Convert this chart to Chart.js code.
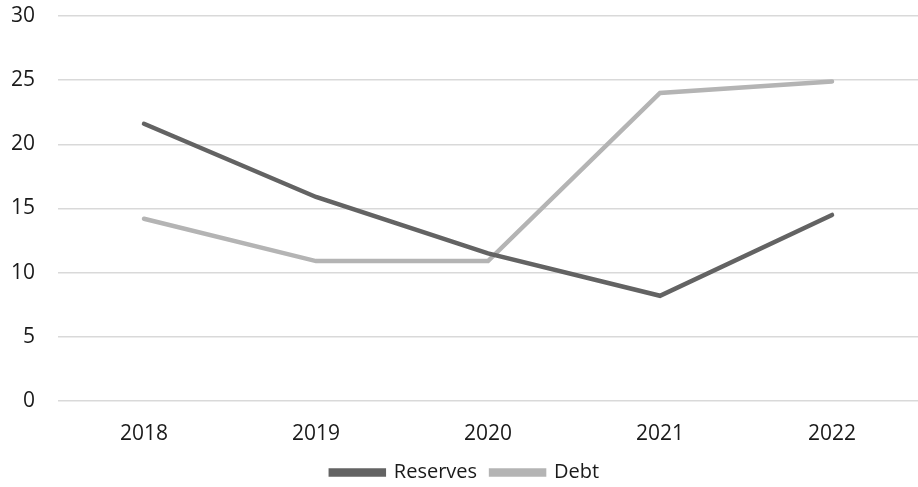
<!DOCTYPE html>
<html>
<head>
<meta charset="utf-8">
<script src="https://cdn.jsdelivr.net/npm/chart.js@4/dist/chart.umd.min.js"></script>
<style>
  html, body { margin: 0; padding: 0; background: #fff; }
  #wrap { width: 918px; height: 487px; }
</style>
</head>
<body>
<div id="wrap"><canvas id="lineChart"></canvas></div>
<script>
// 年度ごとの準備金と負債
const years = ['2018', '2019', '2020', '2021', '2022'];
const reserves = [21.6, 15.9, 11.5, 8.2, 14.5];
const debt = [14.2, 10.9, 10.9, 24.0, 24.9];
const yTicks = [0, 5, 10, 15, 20, 25, 30];

const textColor = '#1a1a1a';
const fontFamily = '"Open Sans", "Noto Sans", sans-serif';

let ctx = document.getElementById('lineChart').getContext('2d');
window.lineChart = new Chart(ctx, {
  type: 'line',
  data: {
    labels: years,
    datasets: [{
      label: 'Reserves',
      data: reserves,
      borderColor: '#636363',
      backgroundColor: '#636363',
      borderWidth: 4.5,
      borderCapStyle: 'round',
      pointRadius: 0,
      tension: 0
    }, {
      label: 'Debt',
      data: debt,
      borderColor: '#b4b4b4',
      backgroundColor: '#b4b4b4',
      borderWidth: 4.5,
      borderCapStyle: 'round',
      pointRadius: 0,
      tension: 0
    }]
  },
  options: {
    responsive: true,
    maintainAspectRatio: false,
    animation: false,
    layout: {
      padding: { left: 12, right: 0, top: 16, bottom: -5.5 }
    },
    plugins: {
      tooltip: { enabled: false },
      legend: {
        position: 'bottom',
        labels: {
          boxWidth: 53,
          boxHeight: 4,
          padding: 14,
          color: textColor,
          font: { family: fontFamily, size: 20 }
        }
      }
    },
    scales: {
      x: {
        offset: true,
        grid: { display: false, drawTicks: false },
        border: { display: false },
        ticks: {
          padding: 20,
          color: textColor,
          font: { family: fontFamily, size: 21 }
        },
        afterFit: function (axis) {
          axis.height = 47.5;
        }
      },
      y: {
        min: 0,
        max: 30,
        afterBuildTicks: function (axis) {
          axis.ticks = yTicks.map(v => ({ value: v }));
        },
        afterFit: function (axis) {
          // 目盛ラベルの幅と上下の余白を固定
          axis.width = 46;
          axis.paddingTop = 0;
          axis.paddingBottom = 0;
        },
        grid: { color: '#d9d9d9', lineWidth: 1.5, drawTicks: false },
        border: { display: false },
        ticks: {
          padding: 23,
          color: textColor,
          font: { family: fontFamily, size: 21 }
        }
      }
    }
  }
});
</script>
</body>
</html>
